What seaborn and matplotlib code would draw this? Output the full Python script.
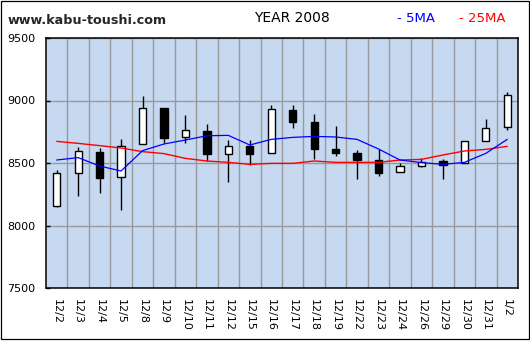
import matplotlib
matplotlib.use("Agg")
import matplotlib.pyplot as plt
import matplotlib.patches as mpatches
from matplotlib.ticker import FixedLocator, NullFormatter
import numpy as np
import pandas as pd
import seaborn as sns

# Daily prices, December 2008 - January 2009
dates = ["12/2", "12/3", "12/4", "12/5", "12/8", "12/9", "12/10", "12/11",
         "12/12", "12/15", "12/16", "12/17", "12/18", "12/19", "12/22",
         "12/23", "12/24", "12/26", "12/29", "12/30", "12/31", "1/2"]
opens  = [8159, 8417, 8588, 8385, 8649, 8937, 8705, 8756, 8569, 8633, 8577,
          8921, 8828, 8612, 8580, 8524, 8425, 8479, 8513, 8497, 8676, 8785]
highs  = [8444, 8626, 8620, 8692, 9036, 8940, 8884, 8810, 8684, 8684, 8964,
          8964, 8892, 8796, 8604, 8609, 8500, 8537, 8532, 8676, 8849, 9068]
lows   = [8151, 8239, 8263, 8124, 8649, 8663, 8657, 8519, 8350, 8481, 8577,
          8783, 8532, 8556, 8375, 8396, 8425, 8471, 8369, 8497, 8676, 8764]
closes = [8417, 8596, 8383, 8633, 8937, 8703, 8761, 8575, 8633, 8575, 8929,
          8831, 8615, 8583, 8524, 8423, 8473, 8511, 8484, 8676, 8777, 9044]
ma5    = [8524, 8543, 8476, 8436, 8599, 8652, 8684, 8718, 8721, 8644, 8689,
          8705, 8713, 8708, 8689, 8612, 8524, 8503, 8489, 8505, 8577, 8689]
ma25   = [8673, 8657, 8639, 8620, 8591, 8575, 8537, 8516, 8505, 8489, 8497,
          8497, 8516, 8505, 8505, 8505, 8524, 8529, 8564, 8596, 8609, 8633]
y_ticks = [7500, 8000, 8500, 9000, 9500]

df = pd.DataFrame({"date": dates, "open": opens, "high": highs, "low": lows,
                   "close": closes, "ma5": ma5, "ma25": ma25})
df["pos"] = np.arange(len(df))

sns.set_theme(style="white")
plt.rcParams["font.family"] = ["DejaVu Sans"]

W, H = 530, 341
fig = plt.figure(figsize=(W / 100, H / 100), dpi=100)
ax = fig.add_axes([46 / W, 53 / H, (518 - 46) / W, (288 - 38) / H])
ax.set_facecolor("#C6D9F0")

# Grid: horizontal at price levels, vertical between trading days
ax.set_xlim(-0.5, len(df) - 0.5)
ax.set_ylim(7500, 9500)
ax.xaxis.set_minor_locator(FixedLocator(np.arange(0.5, len(df) - 1, 1.0)))
ax.xaxis.set_minor_formatter(NullFormatter())
ax.set_xticks(df["pos"])
ax.set_xticklabels(df["date"], rotation=270, fontsize=8, color="black")
ax.set_yticks(y_ticks)
ax.set_yticklabels([str(v) for v in y_ticks], fontsize=8, color="black")
ax.grid(False)
ax.grid(True, axis="x", which="minor", color="#999999", linewidth=1)
ax.grid(True, axis="y", which="major", color="#999999", linewidth=1)
ax.set_axisbelow(True)
ax.tick_params(axis="x", which="major", length=0, pad=8)
ax.tick_params(axis="x", which="minor", length=0)
ax.tick_params(axis="y", which="major", direction="in", length=3,
               width=1, color="black", pad=8, left=True)
for sp in ax.spines.values():
    sp.set_color("black")
    sp.set_linewidth(1.1)

# Candlesticks
body_w = 0.34
up = df["close"] >= df["open"]
ax.vlines(df["pos"], df["low"], df["high"], color="black", linewidth=1, zorder=3)
ax.bar(df["pos"], (df["close"] - df["open"]).abs().clip(lower=4),
       bottom=np.minimum(df["open"], df["close"]), width=body_w,
       color=np.where(up, "white", "black"), edgecolor="black",
       linewidth=1, zorder=4)

# Moving averages
sns.lineplot(data=df, x="pos", y="ma25", color="#FF0000", linewidth=1.0,
             ax=ax, zorder=5)
sns.lineplot(data=df, x="pos", y="ma5", color="#0000FF", linewidth=0.9,
             ax=ax, zorder=6)
ax.set_xlabel("")
ax.set_ylabel("")

# Header
fig.text(8 / W, 1 - 20 / H, "www.kabu-toushi.com", fontsize=9.2,
         fontweight="bold", va="center", ha="left")
fig.text(292 / W, 1 - 18 / H, "YEAR 2008", fontsize=10,
         va="center", ha="center", color="black")
fig.text(397 / W, 1 - 18 / H, "- 5MA", fontsize=9.5, color="#0000FF",
         va="center", ha="left")
fig.text(459 / W, 1 - 18 / H, "- 25MA", fontsize=9.5, color="#FF0000",
         va="center", ha="left")

# Outer frame
fig.patches.append(mpatches.Rectangle((1.0 / W, 2.5 / H), 527.5 / W,
                                      337.5 / H, transform=fig.transFigure,
                                      fill=False, edgecolor="black",
                                      linewidth=0.9))

fig.savefig("out.png", dpi=100, facecolor="white")
